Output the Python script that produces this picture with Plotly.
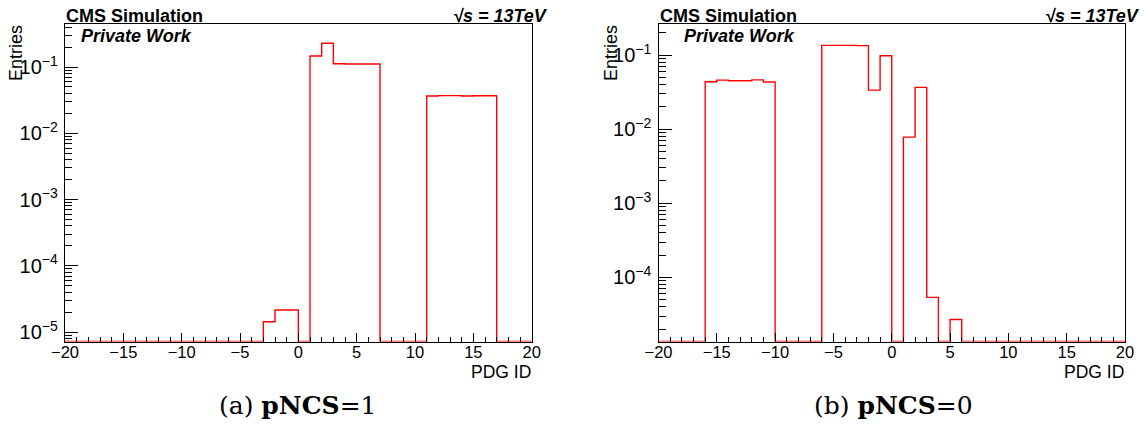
import plotly.graph_objects as go

W, H = 1145, 429

# ---- data -------------------------------------------------------------
bin_edges = list(range(-20, 21))  # PDG ID bins of width 1, from -20 to 20

# (a) pNCS = 1 : entries per bin (bins -20..19)
entries_a = [0, 0, 0, 0, 0, 0, 0, 0, 0, 0,          # -20 .. -11
             0, 0, 0, 0, 0, 0, 0,                   # -10 .. -4
             1.43e-5, 2.15e-5, 2.15e-5,             # -3 .. -1
             0,                                     # 0
             0.147, 0.228, 0.112, 0.111, 0.111, 0.111,  # 1 .. 6
             0, 0, 0, 0,                            # 7 .. 10
             0.0365, 0.037, 0.037, 0.0365, 0.0368, 0.0368,  # 11 .. 16
             0, 0, 0]                               # 17 .. 19

# (b) pNCS = 0 : entries per bin (bins -20..19)
entries_b = [0, 0, 0, 0,                            # -20 .. -17
             0.0436, 0.0459, 0.045, 0.045, 0.0463, 0.0432,  # -16 .. -11
             0, 0, 0, 0,                            # -10 .. -7
             0.135, 0.135, 0.135, 0.134,            # -6 .. -3
             0.0336, 0.098,                         # -2, -1
             0,                                     # 0
             0.0078, 0.0366, 5.37e-5,               # 1, 2, 3
             0, 2.7e-5,                             # 4, 5
             0, 0, 0, 0, 0, 0, 0, 0, 0, 0, 0, 0, 0, 0]  # 6 .. 19

x_tick_step = 5
y_range_a = [-5.142, -0.355]   # log10 axis range, panel (a)
y_range_b = [-4.865, -0.585]   # log10 axis range, panel (b)

captions = ["(a) <b>pNCS</b>=1", "(b) <b>pNCS</b>=0"]

# ---- layout helpers ---------------------------------------------------
def px(x):
    return x / W

def py(y):
    return 1 - y / H

SANS = "Liberation Sans, Arial, Helvetica, sans-serif"
SERIF = "DejaVu Serif, Liberation Serif, serif"

y_dom = [py(341.5), py(24.3)]
x_dom_a = [px(65.0), px(531.7)]
x_dom_b = [px(658.5), px(1125.0)]

fig = go.Figure()


def step_trace(values, yrange, xaxis, yaxis):
    floor = 10 ** yrange[0]
    ys = [v if v > 0 else floor for v in values]
    ys = ys + [ys[-1]]
    return go.Scatter(x=bin_edges, y=ys, mode="lines", line_shape="hv",
                      line=dict(color="#ff0000", width=1.4),
                      xaxis=xaxis, yaxis=yaxis, showlegend=False,
                      hoverinfo="skip")


fig.add_trace(step_trace(entries_a, y_range_a, "x", "y"))
fig.add_trace(step_trace(entries_b, y_range_b, "x2", "y2"))

xaxis_common = dict(
    range=[bin_edges[0], bin_edges[-1]], tick0=0, dtick=x_tick_step,
    ticks="inside", ticklen=9, tickwidth=1, tickcolor="black",
    minor=dict(ticks="inside", ticklen=4.5, dtick=1, tickcolor="black", tickwidth=1),
    showline=True, mirror=True, linecolor="black", linewidth=1,
    showgrid=False, zeroline=False, automargin=False,
    tickfont=dict(family=SANS, size=16.5, color="black"),
    ticklabelstandoff=-4,
)
yaxis_common = dict(
    type="log", dtick=1, exponentformat="power", showexponent="all",
    ticks="inside", ticklen=13, tickwidth=1, tickcolor="black",
    minor=dict(ticks="inside", ticklen=7, dtick="D1", tickcolor="black", tickwidth=1),
    showline=True, mirror=True, linecolor="black", linewidth=1,
    showgrid=False, zeroline=False, automargin=False,
    tickfont=dict(family=SANS, size=16, color="black"),
    ticklabelstandoff=3,
)

fig.update_layout(
    width=W, height=H, autosize=False,
    margin=dict(l=0, r=0, t=0, b=0, autoexpand=False),
    paper_bgcolor="white", plot_bgcolor="white",
    xaxis=dict(domain=x_dom_a, anchor="y", **xaxis_common),
    yaxis=dict(domain=y_dom, anchor="x", range=y_range_a, **yaxis_common),
    xaxis2=dict(domain=x_dom_b, anchor="y2", **xaxis_common),
    yaxis2=dict(domain=y_dom, anchor="x2", range=y_range_b, **yaxis_common),
)

ann = []
panels = [
    dict(frame_l=65.0, frame_r=531.7, sqrt_r=549, pw_l=80, ent_x=16, cap_x=298, cap=captions[0]),
    dict(frame_l=659.0, frame_r=1125.0, sqrt_r=1141, pw_l=683, ent_x=611, cap_x=893, cap=captions[1]),
]
for p in panels:
    ann.append(dict(text="<b>CMS Simulation</b>", x=px(p["frame_l"]), y=py(15.5),
                    xanchor="left", yanchor="middle",
                    font=dict(family=SANS, size=18, color="black")))
    ann.append(dict(text="<b><i>√s = 13TeV</i></b>", x=px(p["sqrt_r"]), y=py(15.5),
                    xanchor="right", yanchor="middle",
                    font=dict(family=SANS, size=18, color="black")))
    ann.append(dict(text="<b><i>Private Work</i></b>", x=px(p["pw_l"]), y=py(36),
                    xanchor="left", yanchor="middle",
                    font=dict(family=SANS, size=18, color="black")))
    ann.append(dict(text="Entries", x=px(p["ent_x"]), y=py(24), textangle=-90,
                    xanchor="center", yanchor="top",
                    font=dict(family=SANS, size=18, color="black")))
    ann.append(dict(text="PDG ID", x=px(p["frame_r"]), y=py(371.5),
                    xanchor="right", yanchor="middle",
                    font=dict(family=SANS, size=17.5, color="black")))
    ann.append(dict(text=p["cap"], x=px(p["cap_x"]), y=py(405),
                    xanchor="center", yanchor="middle",
                    font=dict(family=SERIF, size=25, color="black")))

for a in ann:
    a.update(xref="paper", yref="paper", showarrow=False, borderpad=0)
fig.update_layout(annotations=ann)

fig.write_html("out.html")
